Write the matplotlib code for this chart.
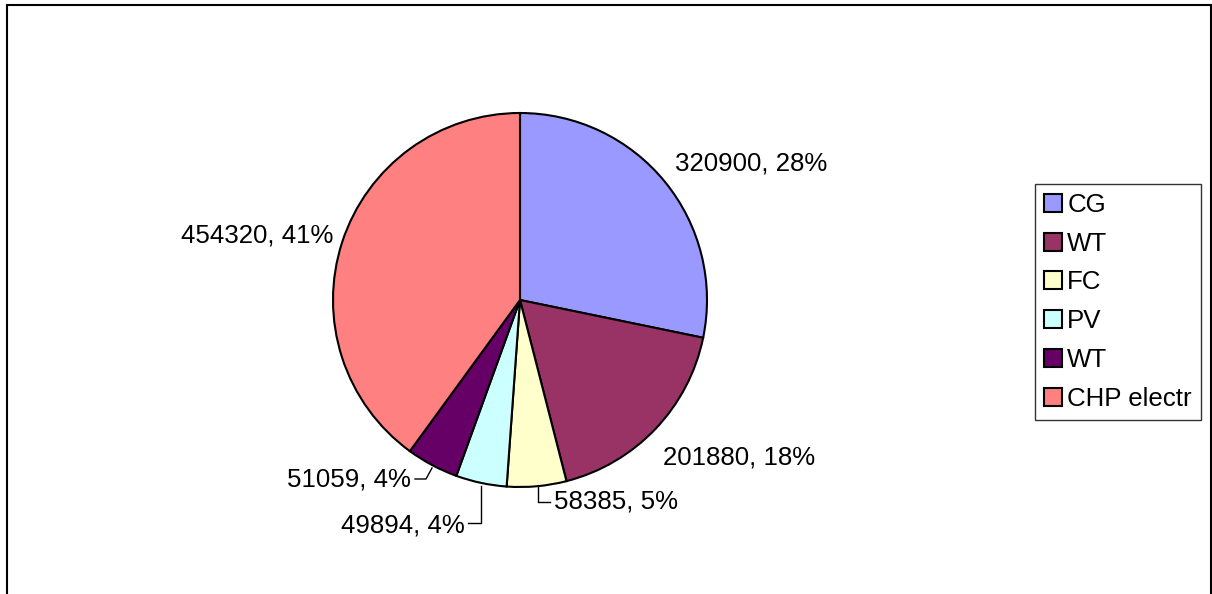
import numpy as np
import matplotlib
matplotlib.use('Agg')
from matplotlib import pyplot as plt
from matplotlib.patches import Patch, Rectangle

plt.rcParams['font.family'] = ['Liberation Sans', 'DejaVu Sans']

labels = ['CG', 'WT', 'FC', 'PV', 'WT', 'CHP electr']
values = [320900, 201880, 58385, 49894, 51059, 454320]
percents = [28, 18, 5, 4, 4, 41]  # as printed on the chart
colors = ['#9999FF', '#993366', '#FFFFCC', '#CCFFFF', '#660066', '#FF8080']

W, H = 1212, 594
fig = plt.figure(figsize=(W / 100, H / 100), dpi=100)

# outer chart frame (bottom edge is cut off in the reference)
fig.add_artist(Rectangle((7 / W, -0.05), (1211 - 7) / W, 1.05 - 5 / H,
                         transform=fig.transFigure, fill=False, lw=1.5, ec='black'))

# pie axes: centre (520, 300) px, radius 187 px
cx, cy, r = 520, 300, 187
ax = fig.add_axes([(cx - r) / W, (H - cy - r) / H, 2 * r / W, 2 * r / H])
ax.pie(values, colors=colors, startangle=90, counterclock=False, radius=1,
       wedgeprops=dict(edgecolor='black', linewidth=1.5))
ax.set_xlim(-1, 1)
ax.set_ylim(-1, 1)
ax.set_aspect('auto')
ax.axis('off')

texts = [f'{v}, {p}%' for v, p in zip(values, percents)]


def px(x, y):
    return ((x - cx) / r, -(y - cy) / r)


# label positions (px) and alignment
label_pos = [(675, 163, 'left'), (663, 457, 'left'), (554, 502, 'left'),
             (465, 525, 'right'), (411, 479, 'right'), (333, 236, 'right')]
for t, (x, y, ha) in zip(texts, label_pos):
    ax.text(*px(x, y), t, ha=ha, va='center', fontsize=18.6, clip_on=False)

# leader lines
leaders = [
    [(538, 487), (538, 502), (550, 502)],
    [(481, 486), (481, 523), (468, 523)],
    [(432, 468), (426, 479), (415, 479)],
]
for pts in leaders:
    xs, ys = zip(*[px(x, y) for x, y in pts])
    ax.plot(xs, ys, color='black', lw=1, clip_on=False)

handles = [Patch(facecolor=c, edgecolor='black', lw=1.5) for c in colors]
leg = fig.legend(handles, labels, loc='upper left',
                 bbox_to_anchor=(1035 / W, 1 - 184 / H), fontsize=18.6,
                 frameon=True, fancybox=False, edgecolor='black',
                 handlelength=0.7, handleheight=0.7, handletextpad=0.2,
                 labelspacing=0.57, borderpad=0.35, borderaxespad=0)
leg.get_frame().set_linewidth(1)

fig.savefig('out.png', dpi=100)
